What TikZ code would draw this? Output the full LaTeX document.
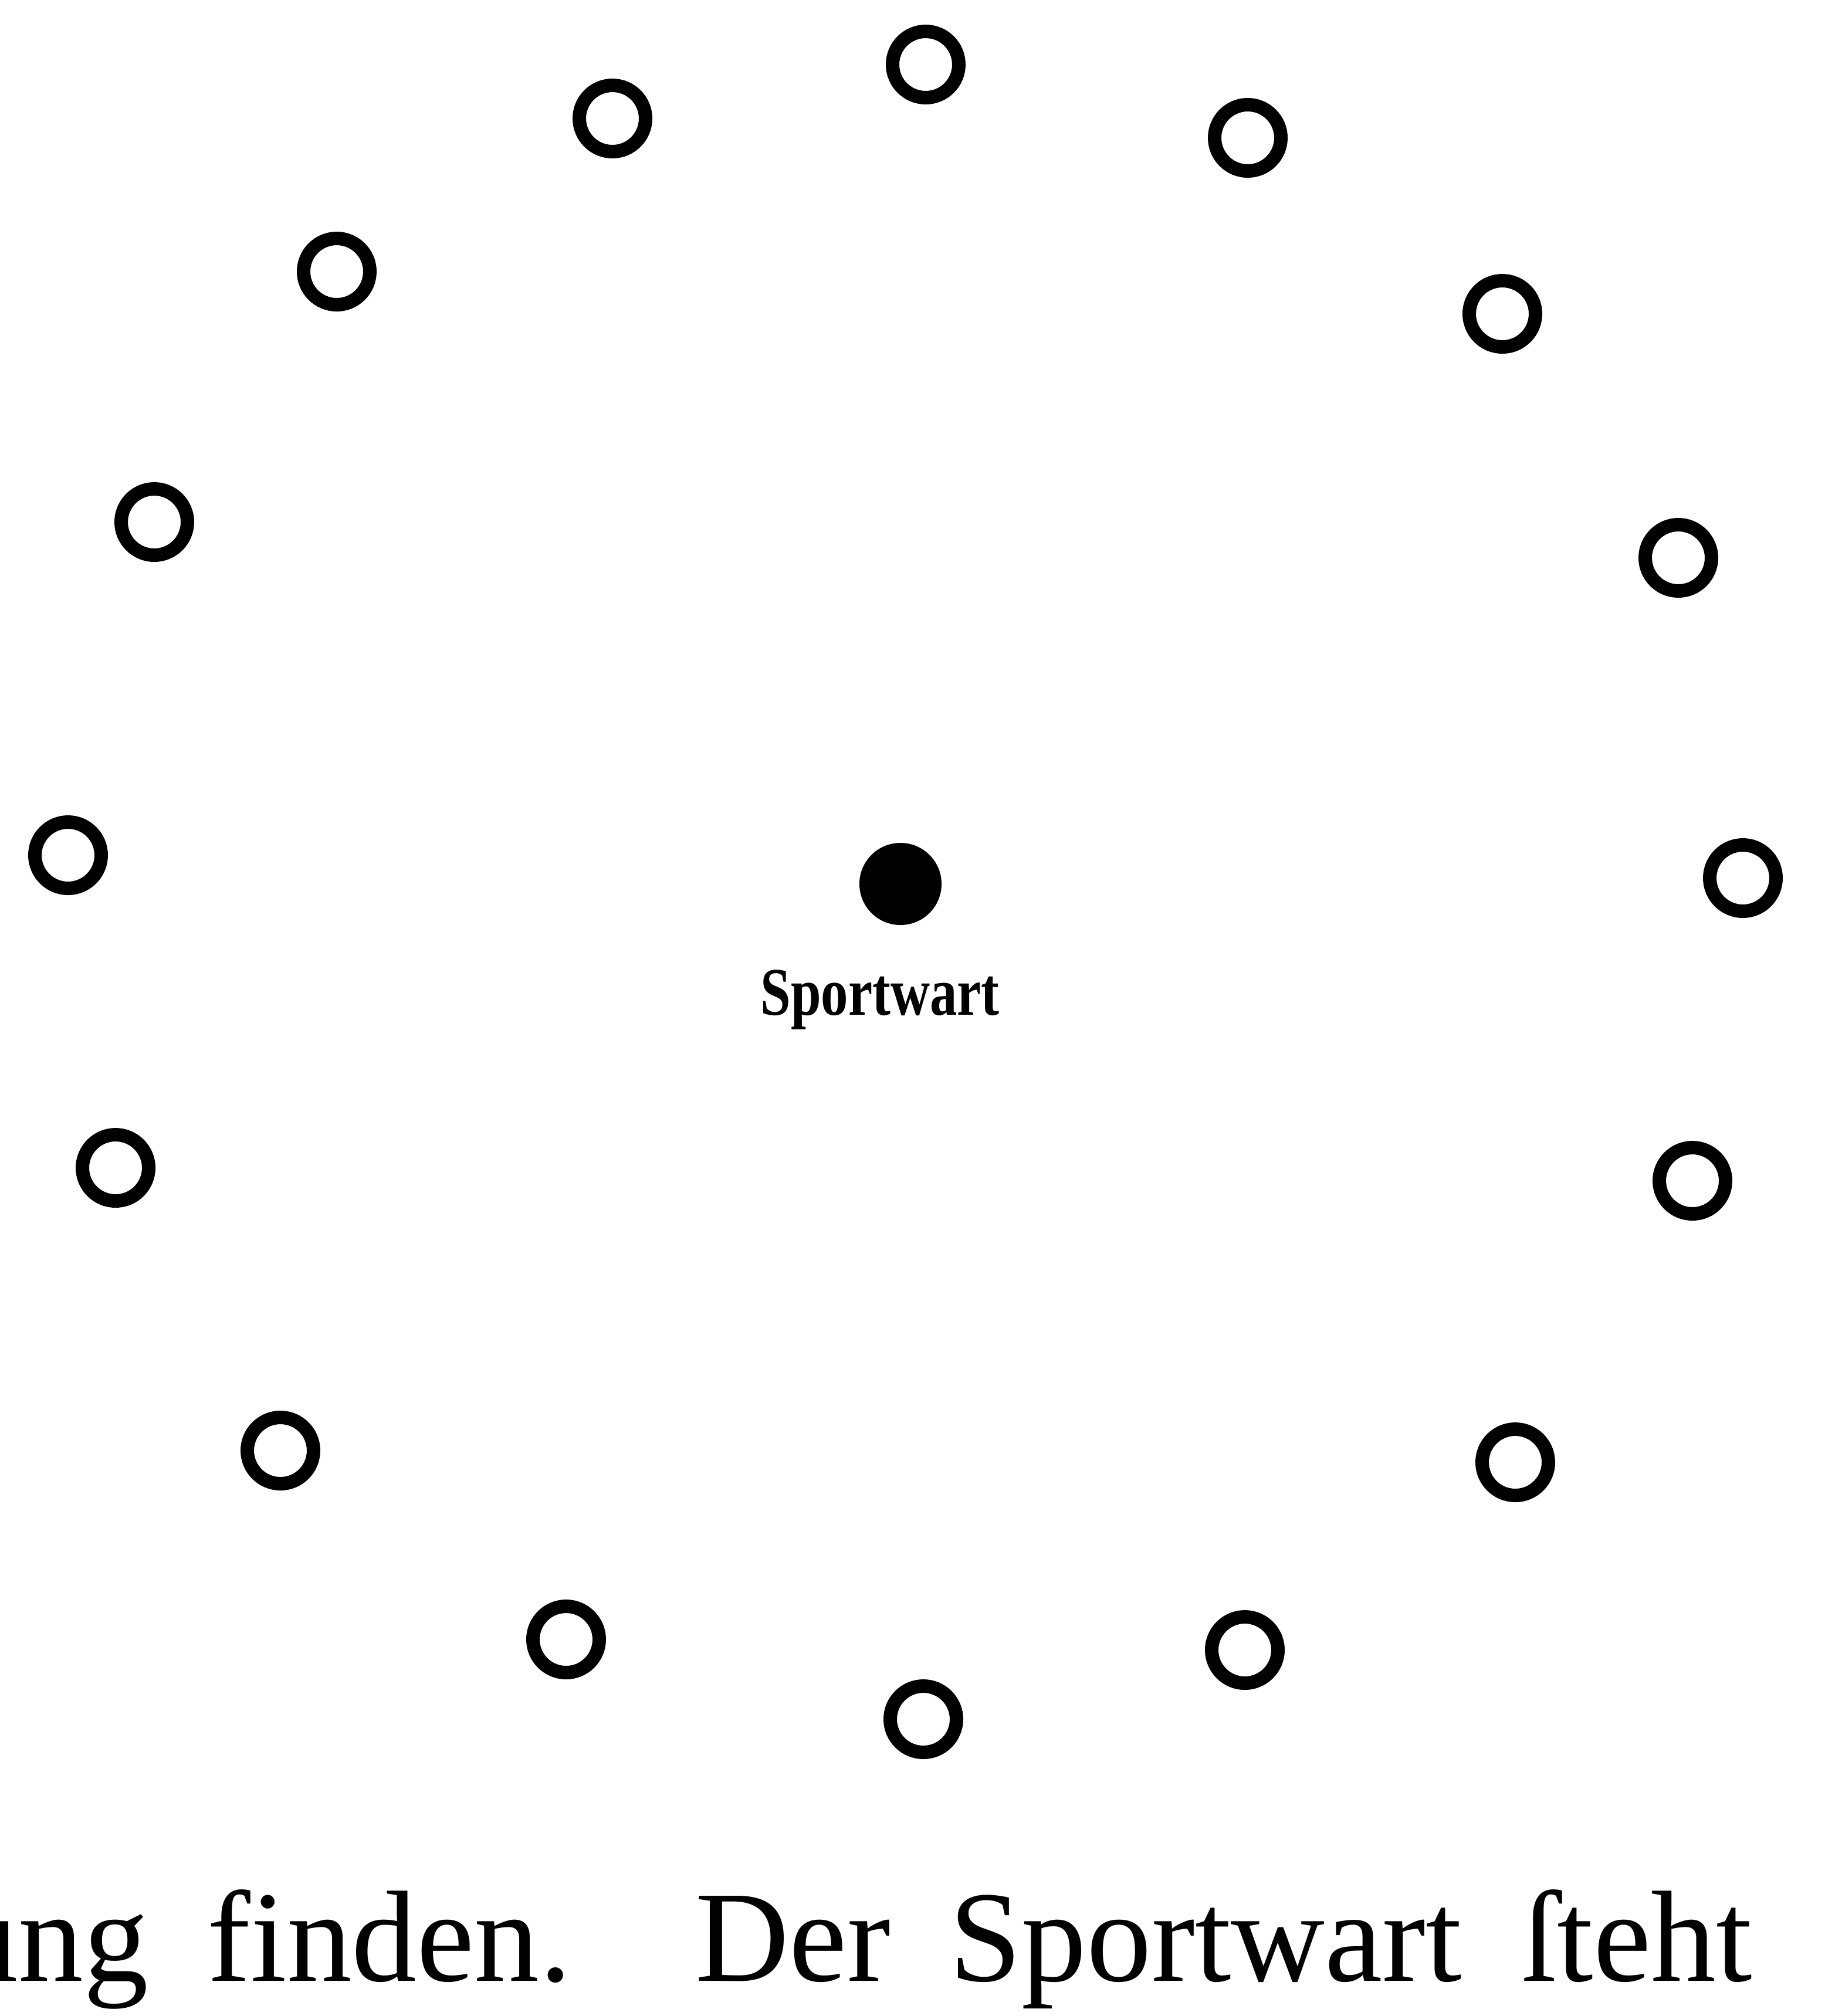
\documentclass[tikz,border=0pt]{standalone}
\usepackage{fontspec}
\setmainfont{Liberation Serif}
\usetikzlibrary{positioning}

\begin{document}
\begin{tikzpicture}[
  player/.style={circle, draw, line width=0.23cm, minimum size=1.13cm, inner sep=0pt},
  warden/.style={circle, fill, minimum size=1.4cm, inner sep=0pt},
  tag/.style={font=\fontsize{33}{33}\selectfont\bfseries, inner sep=0pt},
  prose/.style={font=\fontsize{63}{63}\selectfont, inner sep=0pt, anchor=base west}
]
\useasboundingbox (0,0) rectangle (31.11,-34.37);

%% Ring of players
\node[player] (p1)  at (15.78,-1.10) {};
\node[player] (p2)  at (10.44,-2.02) {};
\node[player] (p3)  at (21.27,-2.35) {};
\node[player] (p4)  at (5.74,-4.63) {};
\node[player] (p5)  at (25.61,-5.35) {};
\node[player] (p6)  at (2.63,-8.90) {};
\node[player] (p7)  at (28.61,-9.51) {};
\node[player] (p8)  at (1.16,-14.58) {};
\node[player] (p9)  at (29.71,-14.97) {};
\node[player] (p10) at (1.97,-19.91) {};
\node[player] (p11) at (28.85,-20.13) {};
\node[player] (p12) at (4.78,-24.73) {};
\node[player] (p13) at (25.83,-24.93) {};
\node[player] (p14) at (9.65,-27.95) {};
\node[player] (p15) at (21.22,-28.13) {};
\node[player] (p16) at (15.74,-29.31) {};

%% Sportwart in the middle
\node[warden] (wart) at (15.35,-15.07) {};
\node[tag, below=0.75cm of wart, xshift=-3.5mm] (wartlabel) {\scalebox{0.8}[1]{Sportwart}};

%% Running text below
\node[prose] (line) at (-0.80,-33.77) {\makebox[30.66cm][s]{ung finden. Der Sportwart ſteht}};

\end{tikzpicture}
\end{document}
